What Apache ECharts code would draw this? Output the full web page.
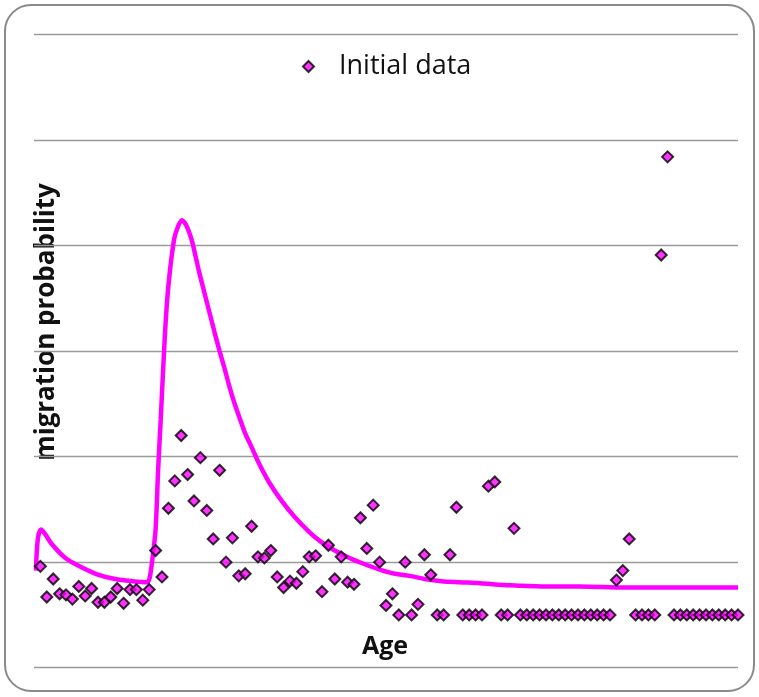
<!DOCTYPE html>
<html>
<head>
<meta charset="utf-8">
<script src="https://cdn.jsdelivr.net/npm/echarts@6/dist/echarts.min.js"></script>
<style>
  html, body { margin: 0; padding: 0; background: #fff; }
  #chart { width: 759px; height: 697px; }
</style>
</head>
<body>
<div id="chart"></div>
<script>
// Observed migration probability by single year of age (ages 1..110)
const firstAge = 1;
const initialData = [
  0.0046, 0.0017, 0.0034, 0.0020, 0.0019, 0.0015, 0.0027, 0.0018, 0.0025, 0.0012,
  0.0012, 0.0017, 0.0025, 0.0011, 0.0024, 0.0024, 0.0014, 0.0024, 0.0061, 0.0036,
  0.0101, 0.0127, 0.0170, 0.0133, 0.0108, 0.0149, 0.0099, 0.0072, 0.0137, 0.0050,
  0.0073, 0.0037, 0.0039, 0.0084, 0.0055, 0.0054, 0.0061, 0.0036, 0.0026, 0.0032,
  0.0030, 0.0041, 0.0055, 0.0056, 0.0022, 0.0066, 0.0034, 0.0055, 0.0031, 0.0029,
  0.0092, 0.0063, 0.0104, 0.0050, 0.0009, 0.0020, 0, 0.0050, 0, 0.0010,
  0.0057, 0.0038, 0, 0, 0.0057, 0.0102, 0, 0, 0, 0,
  0.0122, 0.0126, 0, 0, 0.0082, 0, 0, 0, 0, 0,
  0, 0, 0, 0, 0, 0, 0, 0, 0, 0,
  0.0033, 0.0042, 0.0072, 0, 0, 0, 0, 0.0341, 0.0434, 0,
  0, 0, 0, 0, 0, 0, 0, 0, 0, 0
];

// Fitted model schedule (age, probability)
const fitAges = [
  0.3, 0.6, 1.1, 1.8, 2.8, 4.9, 7.5, 10.1, 12.7, 15.4,
  17.7, 18.1, 18.5, 19.0, 19.4, 19.8, 20.1, 20.6, 21.1, 21.9,
  22.5, 23.1, 23.8, 24.6, 25.2, 25.8, 26.6, 27.4, 28.2, 29.0,
  29.8, 30.5, 31.3, 32.1, 33.0, 34.0, 35.2, 36.8, 38.7, 40.7,
  43.1, 44.9, 47.0, 49.3, 51.7, 54.0, 56.4, 58.7, 61.1, 63.7,
  66.5, 69.7, 74.4, 79.4, 85.3, 92.4, 110
];
const fitValues = [
  0.0042, 0.0072, 0.0081, 0.0076, 0.0067, 0.0054, 0.0045, 0.0038, 0.0034, 0.0032,
  0.0031, 0.0036, 0.0053, 0.0081, 0.0138, 0.0185, 0.0223, 0.0280, 0.0318, 0.0356,
  0.0368, 0.0374, 0.0369, 0.0356, 0.0341, 0.0325, 0.0306, 0.0287, 0.0268, 0.0250,
  0.0233, 0.0217, 0.0201, 0.0187, 0.0172, 0.0159, 0.0143, 0.0125, 0.0108, 0.0093,
  0.0078, 0.0069, 0.0061, 0.0054, 0.0048, 0.0043, 0.0039, 0.0037, 0.0034, 0.0032,
  0.0031, 0.0030, 0.0028, 0.0027, 0.0027, 0.0026, 0.0026
];

const ageMin = 0, ageMax = 110;
const probMin = -0.005, probMax = 0.055, probStep = 0.01;

const scatterPoints = initialData.map((v, i) => [firstAge + i, v]);
const fitPoints = fitAges.map((a, i) => [a, fitValues[i]]);

const chart = echarts.init(document.getElementById('chart'));
chart.setOption({
  backgroundColor: '#ffffff',
  animation: false,
  grid: { left: 34, right: 21, top: 34.4, bottom: 29.3, containLabel: false },
  legend: {
    data: ['Initial data'],
    left: 297,
    top: 48,
    itemWidth: 11,
    itemHeight: 11,
    textStyle: {
      fontFamily: 'Open Sans',
      fontSize: 27,
      color: '#111',
      padding: [0, 0, 0, 20]
    }
  },
  xAxis: {
    type: 'value',
    min: ageMin,
    max: ageMax,
    axisLine: { show: false },
    axisTick: { show: false },
    axisLabel: { show: false },
    splitLine: { show: false }
  },
  yAxis: {
    type: 'value',
    min: probMin,
    max: probMax,
    interval: probStep,
    axisLine: { show: false },
    axisTick: { show: false },
    axisLabel: { show: false },
    splitLine: { show: true, lineStyle: { color: '#9a9a9a', width: 1.3 } }
  },
  series: [
    {
      name: 'Fitted model',
      type: 'line',
      data: fitPoints,
      smooth: 0.3,
      showSymbol: false,
      lineStyle: { color: '#ff00ff', width: 4.5 },
      z: 2
    },
    {
      name: 'Initial data',
      type: 'scatter',
      data: scatterPoints,
      symbol: 'diamond',
      symbolSize: 11,
      itemStyle: { color: '#ff00ff', borderColor: '#000', borderWidth: 2 },
      z: 3
    }
  ],
  graphic: [
    {
      type: 'rect',
      silent: true,
      z: -10,
      shape: { x: 5, y: 5, width: 749, height: 686, r: 26 },
      style: { fill: 'none', stroke: '#8a8a8a', lineWidth: 2 }
    },
    {
      type: 'text',
      x: 47,
      y: 322,
      rotation: Math.PI / 2,
      style: {
        text: 'migration probability',
        fontFamily: 'Open Sans',
        fontWeight: 'bold',
        fontSize: 26,
        fill: '#111',
        align: 'center',
        verticalAlign: 'middle'
      }
    },
    {
      type: 'text',
      x: 385,
      y: 647,
      style: {
        text: 'Age',
        fontFamily: 'Open Sans',
        fontWeight: 'bold',
        fontSize: 25,
        fill: '#111',
        align: 'center',
        verticalAlign: 'middle'
      }
    }
  ]
});
</script>
</body>
</html>
